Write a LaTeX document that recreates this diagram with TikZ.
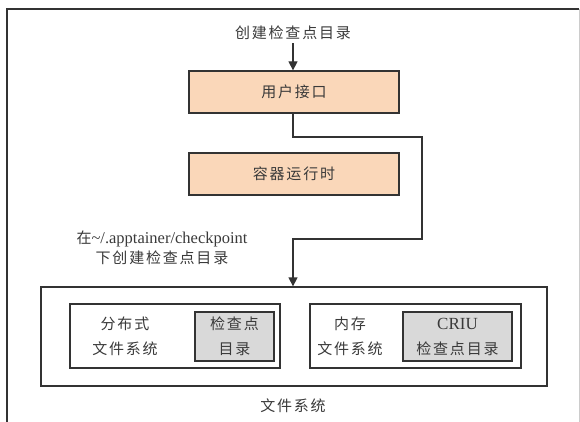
\documentclass[tikz,border=0pt]{standalone}
\usepackage{fontspec}
\setmainfont{Liberation Serif}
\newfontfamily\cjk[LetterSpace=12]{Noto Sans CJK SC}
\usetikzlibrary{arrows.meta}
\definecolor{peach}{HTML}{FAD7B9}
\definecolor{boxgray}{HTML}{D9D9D9}
\definecolor{ink}{HTML}{333333}
\definecolor{txt}{HTML}{3A3A3A}
\tikzset{
  every node/.style={text=txt, inner sep=0pt},
  lbl/.style={font=\cjk\fontsize{15}{25}\selectfont, align=center},
  peachbox/.style={draw=ink, line width=1.3pt, fill=peach, minimum width=210pt, minimum height=42pt, font=\cjk\fontsize{15}{25}\selectfont},
  plainbox/.style={draw=ink, line width=1.3pt},
  graybox/.style={draw=ink, line width=1.3pt, fill=boxgray, align=center, font=\cjk\fontsize{15}{25}\selectfont},
  conn/.style={draw=ink, line width=1.3pt},
  arr/.style={conn, -{Triangle[length=9pt,width=9pt]}}
}
\begin{document}
\begin{tikzpicture}[x=1pt,y=-1pt]
\useasboundingbox (0,0) rectangle (580,422);
\clip (0,0) rectangle (580,422);
\fill[white] (0,0) rectangle (580,422);
% outer frame (cropped)
\draw[ink, line width=1.3pt] (7,440) -- (7,9) -- (579,9);
\draw[gray!40, line width=1pt] (579,9) -- (579,440);

\node[lbl] (title) at (293,33) {创建检查点目录};
\node[peachbox] (ui) at (294,92) {用户接口};
\node[peachbox] (rt) at (294,174) {容器运行时};

\node[plainbox, minimum width=506pt, minimum height=99pt] (fs) at (294,336.5) {};
\node[plainbox, minimum width=210pt, minimum height=64pt] (dfs) at (175,336) {};
\node[plainbox, minimum width=211pt, minimum height=64pt] (mfs) at (415.5,336) {};
\node[graybox, minimum width=79pt, minimum height=49pt] (dfsdir) at (234.5,336.5) {检查点\\目录};
\node[graybox, minimum width=109pt, minimum height=49pt] (criu) at (457.5,336.5) {{\rmfamily\fontsize{17}{25}\selectfont CRIU}\\检查点目录};
\node[lbl] (dfslbl) at (125,336) {分布式\\文件系统};
\node[lbl] (mfslbl) at (350,336) {内存\\文件系统};
\node[lbl] (fslbl) at (293,406) {文件系统};

\node[align=center, font=\fontsize{16.5}{20}\selectfont] (note) at (162,248) {{\cjk\fontsize{15}{20}\selectfont 在}\textasciitilde/.apptainer/checkpoint\\{\cjk\fontsize{15}{20}\selectfont 下创建检查点目录}};

\coordinate (c1) at (293,137);
\coordinate (c2) at (422,137);
\coordinate (c3) at (422,239);
\coordinate (c4) at (293,239);

\draw[arr] (title.south -| 293,0) ++(0,3) -- (ui.north -| 293,0);
\draw[arr] (ui.south -| c1) -- (c1) -- (c2) -- (c3) -- (c4) -- (fs.north -| c4);
\end{tikzpicture}
\end{document}
